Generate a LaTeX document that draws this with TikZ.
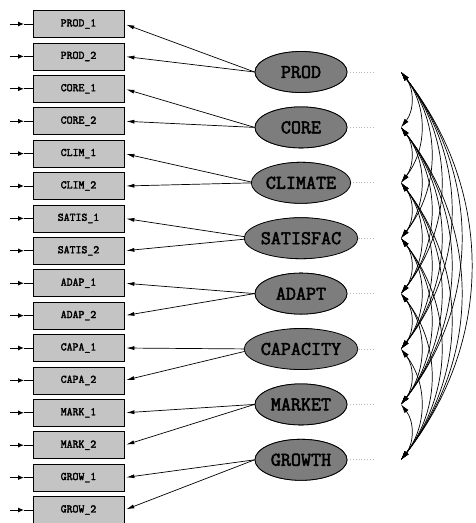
\documentclass[tikz,border=0pt]{standalone}
\usepackage{fontspec}
\setmonofont{Latin Modern Mono}[BoldFont={Latin Modern Mono},BoldFeatures={FakeBold=2.5}]
\usetikzlibrary{arrows.meta,shapes.geometric}
\definecolor{boxgray}{RGB}{196,196,196}
\definecolor{latgray}{RGB}{125,125,125}
\begin{document}
\begin{tikzpicture}[x=1pt,y=-1pt,
  obs/.style={draw=black, line width=0.8pt, fill=boxgray, minimum width=91pt, minimum height=27pt, inner sep=0pt, font=\ttfamily\bfseries\fontsize{11.5}{11.5}\selectfont},
  lat/.style={ellipse, draw=black, line width=0.8pt, fill=latgray, minimum width=92pt, minimum height=41pt, inner sep=0pt, font=\ttfamily\bfseries\fontsize{19.5}{19.5}\selectfont},
  load/.style={-{Latex[length=8pt,width=4pt]}, line width=0.7pt, shorten >=2pt},
  err/.style={-{Latex[length=6pt,width=5pt]}, line width=1pt},
  errline/.style={line width=1pt},
  cov/.style={{Latex[length=9pt,width=5pt]}-{Latex[length=9pt,width=5pt]}, line width=0.7pt, bend left=38},
  resid/.style={gray!55, dotted, line width=0.8pt}]
\useasboundingbox (0,0) rectangle (475,523);
% observed variables
\foreach \t [count=\i] in {PROD\_1,PROD\_2,CORE\_1,CORE\_2,CLIM\_1,CLIM\_2,SATIS\_1,SATIS\_2,ADAP\_1,ADAP\_2,CAPA\_1,CAPA\_2,MARK\_1,MARK\_2,GROW\_1,GROW\_2}{
  \pgfmathsetmacro{\yy}{24+32.4*(\i-1)}
  \node[obs] (b\i) at (78.5,\yy) {\t};
  \coordinate (e\i) at (10,\yy);
  \coordinate (m\i) at (24,\yy);
  \draw[err] (e\i) -- (m\i);
  \draw[errline] (m\i) -- (b\i.west);
}
% latent variables
\foreach \t [count=\i] in {PROD,CORE,CLIMATE,SATISFAC,ADAPT,CAPACITY,MARKET,GROWTH}{
  \pgfmathsetmacro{\yy}{72+55.4*(\i-1)}
  \coordinate (r\i) at (373,\yy);
  \coordinate (c\i) at (401,\yy);
  \node[lat] (l\i) at (301,\yy) {};
  \draw[resid] (l\i.east) -- (r\i);
  \pgfmathtruncatemacro{\ba}{2*\i-1}
  \pgfmathtruncatemacro{\bb}{2*\i}
  \draw[load] (l\i.west) -- (b\ba.east);
  \draw[load] (l\i.west) -- (b\bb.east);
  \node[lat] at (l\i) {\t};
}
% covariances
\foreach \i in {1,...,7}{
  \pgfmathtruncatemacro{\s}{\i+1}
  \foreach \j in {\s,...,8}{
    \draw[cov] (c\i) to (c\j);
  }
}
\end{tikzpicture}
\end{document}
